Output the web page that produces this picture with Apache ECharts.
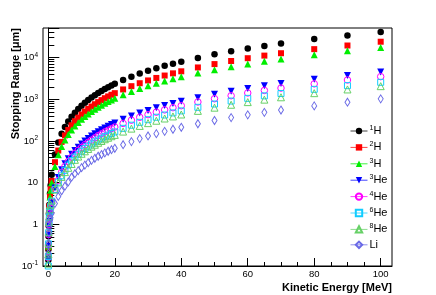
<!DOCTYPE html>
<html><head><meta charset="utf-8">
<script src="https://cdn.jsdelivr.net/npm/echarts@6/dist/echarts.min.js"></script>
<style>html,body{margin:0;padding:0;background:#fff}#c{width:436px;height:295px}</style>
</head><body><div id="c"></div>
<script>
// ---- data (kinetic energy in MeV, stopping range in micrometres) ----
const energy = [0.01,0.02,0.05,0.1,0.2,0.3,0.5,0.7,1,2,3,4,5,6,7,8,9,10,11,12,13,14,15,16,17,18,19,20,22.5,25,27.5,30,32.5,35,37.5,40,45,50,55,60,65,70,80,90,100];
const rangeH1 = [0.14,0.25,0.52,0.92,1.85,2.9,5.5,8.7,15.5,47.5,92,149,216,294,381,478,586,702,828,962,1105,1257,1418,1587,1765,1951,2146,2360,2906,3500,4150,4844,5590,6380,7170,7990,9770,12040,14220,16580,19120,21880,27810,34190,41240];
const rangeH2 = [0.17,0.28,0.6,1.04,1.84,2.7,4.7,7.0,11,31,59,95,136,184,238,298,362,432,508,588,672,762,856,956,1062,1172,1286,1404,1724,2066,2432,2836,3254,3716,4196,4698,5812,7000,8300,9688,11180,12760,15980,19540,24080];
const rangeH3 = [0.18,0.3,0.63,1.14,2.04,2.76,4.5,6.6,9.9,24.3,46.5,74,105,142.5,183,228,276,330,387,447,510,579,648,723,801,882,966,1053,1284,1542,1815,2106,2421,2751,3099,3468,4254,5118,6048,7047,8160,9312,11799,14532,17559];
const rangeHe3 = [0.085,0.14,0.30,0.55,0.92,1.17,1.8,2.43,3.4,7.4,13.3,20.4,28.4,37.7,48.1,59.3,71.1,85,99.7,115,131,149,167,186,206,227,249,271,331,397,467,542,623,709,798,893,1095,1318,1557,1815,2101,2398,3038,3742,4522];
const rangeHe4 = [0.095,0.16,0.32,0.57,0.99,1.3,1.86,2.43,3.4,6.9,11.3,17.7,24.6,32.2,40.7,49.9,59.8,70,81.6,93,105,119,134,149,165,181,198,216,263,315,370,428,491,558,629,702,862,1033,1219,1418,1631,1858,2349,2906,3500];
const rangeHe6 = [0.10,0.17,0.34,0.63,1.08,1.48,2.1,2.68,3.6,6.83,10.3,14.6,19.7,26.5,33.7,40.8,48.2,56.7,65.8,74.8,84.6,95.2,105,116,127,138,151.5,165,201,239,280,324,371,420,472,527,642,771,908,1053,1210,1376,1734,2127,2559];
const rangeHe8 = [0.114,0.19,0.36,0.65,1.14,1.56,2.3,2.98,3.73,6.8,10.1,13.75,17.9,22.7,28.1,35.3,42.3,49.3,56.5,64.3,73.1,81.3,90.5,99.8,110,119.6,130,140,168,198,230,268,306,346,388,432,528,630,740,856,982,1118,1404,1724,2066];
const rangeLi = [0.052,0.093,0.205,0.355,0.635,0.86,1.27,1.43,1.83,3.17,4.66,6.37,8.22,10.4,13.5,16.4,19.4,22.9,26.4,30.2,34.3,38.4,43.0,47.3,51.8,56.7,61.8,66.8,81.3,96.6,114,132,150,170,191,213,259,310,364,424,486,552,695,851,1024];

const seriesNames = ['¹H','²H','³H','³He','⁴He','⁶He','⁸He','Li'];
const legendMass  = ['1','2','3','3','4','6','8',''];
const legendElem  = ['H','H','H','He','He','He','He','Li'];
const seriesValues = [rangeH1, rangeH2, rangeH3, rangeHe3, rangeHe4, rangeHe6, rangeHe8, rangeLi];
const xTickLabels = [0,20,40,60,80,100];
const xRange = [-1.6, 103.4];
const yRange = [0.1, 51400];

// ---- styles ----
const styles = [
  {color:'#000000', symbol:'circle',   size:6.5, rot:0,   filled:true},
  {color:'#ff0000', symbol:'rect',     size:6,   rot:0,   filled:true},
  {color:'#00ee00', symbol:'triangle', size:7,   rot:0,   filled:true},
  {color:'#0000ff', symbol:'triangle', size:7,   rot:180, filled:true},
  {color:'#ff00ff', symbol:'circle',   size:6.5, rot:0,   filled:false},
  {color:'#11ccff', symbol:'rect',     size:6,   rot:0,   filled:false},
  {color:'#66d066', symbol:'triangle', size:7,   rot:0,   filled:false},
  {color:'#6a6ae6', symbol:'diamond',  size:[5,8], rot:0, filled:false}
];

const FONT = '"Liberation Sans", Arial, Helvetica, sans-serif';
const G = {left:43, right:44, top:28, bottom:29};
const W = 436;
const pxPerUnit = (W - G.left - G.right) / (xRange[1] - xRange[0]);
const g2left = G.left + (xTickLabels[0] - xRange[0]) * pxPerUnit;
const g2right = G.right + (xRange[1] - xTickLabels[xTickLabels.length-1]) * pxPerUnit;

const chart = echarts.init(document.getElementById('c'), null, {renderer:'canvas'});

const series = seriesNames.map((name, i) => {
  const s = styles[i];
  return {
    type:'line', name, xAxisIndex:0, yAxisIndex:0,
    data: energy.map((e, j) => [e, seriesValues[i][j]]),
    symbol: s.symbol, symbolSize: s.size, symbolRotate: s.rot,
    showSymbol:true, showAllSymbol:true, clip:true, silent:true,
    lineStyle:{width:0, opacity:0, color:s.color},
    itemStyle: s.filled ? {color:s.color, borderWidth:0}
                        : {color:'rgba(255,255,255,0)', borderColor:s.color, borderWidth:1},
    emphasis:{disabled:true}, animation:false, z: 2 + i
  };
});

const option = {
  animation:false,
  backgroundColor:'#ffffff',
  textStyle:{fontFamily:FONT},
  grid:[
    {left:G.left, right:G.right, top:G.top, bottom:G.bottom, show:true, borderColor:'#000', borderWidth:1, backgroundColor:'rgba(0,0,0,0)'},
    {left:g2left, right:g2right, top:G.top, bottom:G.bottom}
  ],
  xAxis:[
    {gridIndex:0, type:'value', min:xRange[0], max:xRange[1],
     axisLine:{show:true, lineStyle:{color:'#000', width:1}}, axisTick:{show:false}, axisLabel:{show:false}, splitLine:{show:false}},
    {gridIndex:1, type:'value', min:xTickLabels[0], max:xTickLabels[xTickLabels.length-1], interval:20,
     axisLine:{show:false},
     axisTick:{show:true, inside:true, length:8, lineStyle:{color:'#000'}},
     minorTick:{show:true, splitNumber:4, length:4, lineStyle:{color:'#000'}},
     axisLabel:{fontSize:9.5, color:'#000', margin:3, fontFamily:FONT},
     splitLine:{show:false}}
  ],
  yAxis:[
    {gridIndex:0, type:'log', logBase:10, min:yRange[0], max:yRange[1],
     axisLine:{show:true, lineStyle:{color:'#000'}},
     axisTick:{show:true, inside:true, length:11, lineStyle:{color:'#000'}},
     minorTick:{show:true, splitNumber:9, length:6, lineStyle:{color:'#000'}},
     splitLine:{show:false}, minorSplitLine:{show:false},
     axisLabel:{showMaxLabel:false, margin:5, color:'#000', fontFamily:FONT,
       formatter: v => {
         const n = Math.round(Math.log10(v));
         if (n === 0) return '{b|1}';
         if (n === 1) return '{b|10}';
         return '{b|10}{e|' + n + '}';
       },
       rich:{b:{fontSize:9.5, lineHeight:12, fontFamily:FONT, color:'#000'},
             e:{fontSize:6.5, lineHeight:7, verticalAlign:'top', fontFamily:FONT, color:'#000'}}}},
    {gridIndex:1, type:'value', show:false}
  ],
  legend:{
    orient:'vertical', left:345, top:119.5, itemWidth:17, itemHeight:8, itemGap:4.4,
    data: seriesNames, selectedMode:false,
    lineStyle:{width:1, opacity:0.75},
    formatter: name => {
      const i = seriesNames.indexOf(name);
      return legendMass[i] ? '{m|' + legendMass[i] + '}{t|' + legendElem[i] + '}' : '{t|' + legendElem[i] + '}';
    },
    textStyle:{padding:[0,0,0,-3], rich:{
      m:{fontSize:7, lineHeight:7, verticalAlign:'top', fontFamily:FONT, color:'#000'},
      t:{fontSize:11, lineHeight:13, fontFamily:FONT, color:'#000'}}}
  },
  graphic:[
    {type:'text', x:16, y:G.top, rotation:Math.PI/2, silent:true,
     style:{text:'Stopping Range [μm]', font:'bold 11px ' + FONT, fill:'#000', align:'right', verticalAlign:'middle', textAlign:'right', textVerticalAlign:'middle'}},
    {type:'text', x:W - G.right, y:288, silent:true,
     style:{text:'Kinetic Energy [MeV]', font:'bold 11px ' + FONT, fill:'#000', align:'right', verticalAlign:'middle', textAlign:'right', textVerticalAlign:'middle'}}
  ],
  series
};
chart.setOption(option);
</script>
</body></html>
